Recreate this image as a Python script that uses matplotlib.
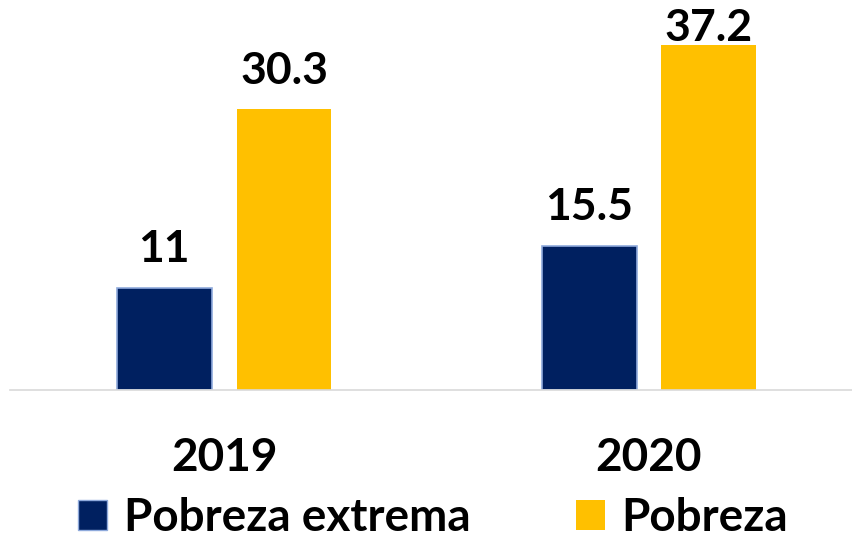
import matplotlib.pyplot as plt
from matplotlib.patches import Patch

years = ['2019', '2020']
extrema = [11, 15.5]
pobreza = [30.3, 37.2]
labels = ['Pobreza extrema', 'Pobreza']

plt.rcParams['font.family'] = ['Lato', 'DejaVu Sans']

fig = plt.figure(figsize=(8.52, 5.41), dpi=100)
ax = fig.add_axes([0.012, 0.279, 0.988, 0.721])

x = range(len(years))
w = 0.2235
off = 0.141
b1 = ax.bar([i - off for i in x], extrema, w, color='#002060', edgecolor='#8FAADC', linewidth=1.2)
b2 = ax.bar([i + off for i in x], pobreza, w, color='#FFC000')

# la etiqueta de 37.2 queda pegada a la barra en el original
for bars, vals, gaps in [(b1, extrema, [14, 14]), (b2, pobreza, [13, -2])]:
    for b, v, g in zip(bars, vals, gaps):
        ax.annotate(f'{v:g}', (b.get_x() + b.get_width() / 2, v), xytext=(0, g),
                    textcoords='offset points', ha='center', va='bottom',
                    fontsize=32, fontweight='bold', annotation_clip=False)

ax.set_xlim(-0.5035, 1.478)
ax.set_ylim(0, 42.07)
ax.set_yticks([])
ax.set_xticks(list(x))
ax.set_xticklabels(years, fontsize=33, fontweight='bold')
ax.tick_params(axis='x', length=0, pad=34)
for s in ['top', 'left', 'right']:
    ax.spines[s].set_visible(False)
ax.spines['bottom'].set_color('#D9D9D9')
ax.spines['bottom'].set_linewidth(1.2)

handles = [Patch(facecolor='#002060', edgecolor='#8FAADC'), Patch(facecolor='#FFC000')]
fig.legend(handles, labels, loc='upper left', bbox_to_anchor=(78 / 852, 1 - 497 / 541), ncol=2,
           frameon=False, prop={'size': 33, 'weight': 'bold'}, borderpad=0, borderaxespad=0,
           handlelength=0.64, handleheight=0.64, handletextpad=0.36, columnspacing=2.3)

fig.savefig('out.png', dpi=100)
